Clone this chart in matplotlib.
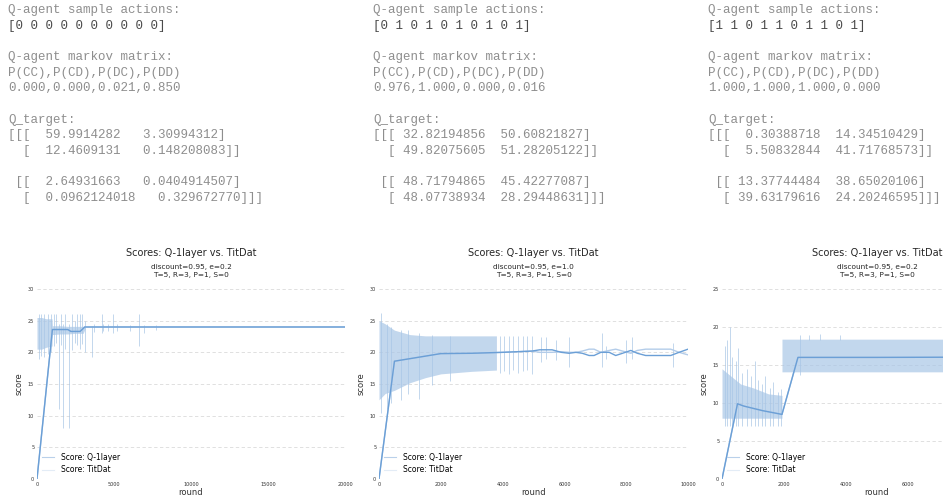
import matplotlib
matplotlib.use("Agg")
import matplotlib.pyplot as plt

W, H = 943, 498

# ---- text blocks above the charts ----
text_blocks = [
    ["Q-agent sample actions:",
     "[0 0 0 0 0 0 0 0 0 0]",
     "",
     "Q-agent markov matrix:",
     "P(CC),P(CD),P(DC),P(DD)",
     "0.000,0.000,0.021,0.850",
     "",
     "Q_target:",
     "[[[  59.9914282   3.30994312]",
     "  [  12.4609131   0.148208083]]",
     "",
     " [[  2.64931663   0.0404914507]",
     "  [  0.0962124018   0.329672770]]]"],
    ["Q-agent sample actions:",
     "[0 1 0 1 0 1 0 1 0 1]",
     "",
     "Q-agent markov matrix:",
     "P(CC),P(CD),P(DC),P(DD)",
     "0.976,1.000,0.000,0.016",
     "",
     "Q_target:",
     "[[[ 32.82194856  50.60821827]",
     "  [ 49.82075605  51.28205122]]",
     "",
     " [[ 48.71794865  45.42277087]",
     "  [ 48.07738934  28.29448631]]]"],
    ["Q-agent sample actions:",
     "[1 1 0 1 1 0 1 1 0 1]",
     "",
     "Q-agent markov matrix:",
     "P(CC),P(CD),P(DC),P(DD)",
     "1.000,1.000,1.000,0.000",
     "",
     "Q_target:",
     "[[[  0.30388718  14.34510429]",
     "  [  5.50832844  41.71768573]]",
     "",
     " [[ 13.37744484  38.65020106]",
     "  [ 39.63179616  24.20246595]]]"],
]
text_left = [8, 373, 708]

# ---- chart data ----
subtitles = ["discount=0.95, e=0.2", "discount=0.95, e=1.0", "discount=0.95, e=0.2"]
xmax = [20000, 10000, 10000]
ymax = [30, 30, 25]
xticks = [[0, 5000, 10000, 15000, 20000],
          [0, 2000, 4000, 6000, 8000, 10000],
          [0, 2000, 4000, 6000]]

# smoothed score lines
q_x = [
    [0, 1000, 2000, 2200, 2800, 3100, 20000],
    [0, 500, 1000, 1500, 2000, 3000, 4000, 4950, 5200, 5600, 5900, 6150, 6370, 6580, 6800, 6960,
     7180, 7450, 7660, 7880, 8150, 8360, 8630, 9440, 9710, 10000],
    [0, 500, 700, 1300, 1935, 2450, 5000, 10000],
]
q_y = [
    [0, 23.6, 23.6, 23.3, 23.3, 24.0, 24.0],
    [0, 18.6, 19.0, 19.4, 19.8, 19.85, 20.0, 20.2, 20.4, 20.4, 20.0, 19.85, 20.0, 19.85, 19.5, 19.5,
     20.0, 20.0, 19.5, 19.85, 20.3, 19.85, 19.5, 19.5, 20.0, 20.5],
    [0, 9.9, 9.6, 9.0, 8.5, 16.0, 16.0, 16.05],
]
td_x = [
    [0, 1000, 2000, 2200, 2800, 3100, 20000],
    [0, 500, 1000, 1500, 2000, 3000, 4000, 4950, 5200, 5600, 5900, 6150, 6370, 6580, 6800, 6960,
     7180, 7450, 7660, 7880, 8150, 8360, 8630, 9440, 9710, 10000],
    [0, 500, 700, 1300, 1935, 2450, 5000, 10000],
]
td_y = [
    [0, 23.6, 23.6, 23.3, 23.3, 24.0, 24.0],
    [0, 18.6, 19.0, 19.4, 19.8, 19.85, 20.0, 20.2, 20.0, 20.0, 20.1, 20.0, 20.0, 20.2, 20.5, 20.5,
     20.0, 20.3, 20.5, 20.2, 19.85, 20.3, 20.5, 20.5, 20.0, 19.6],
    [0, 9.9, 9.6, 9.0, 8.5, 16.0, 16.0, 16.05],
]

# dense score bands (envelope of the per-round scores)
band_x = [
    [0, 300, 600, 975, 1000, 1500, 2000, 2500, 3000, 3140],
    [0, 200, 500, 1000, 1500, 2000, 3000, 3800],
    [0, 300, 600, 1000, 1500, 1935, 1935, 10000],
]
band_lo = [
    [20.5, 20.5, 20.8, 21.0, 22.8, 22.9, 22.9, 23.0, 23.0, 23.8],
    [12.5, 13.5, 14.0, 15.2, 16.0, 16.6, 17.0, 17.2],
    [8.0, 8.0, 8.0, 8.0, 8.0, 8.0, 14.1, 14.1],
]
band_hi = [
    [25.5, 25.5, 25.3, 25.3, 24.2, 24.2, 24.1, 24.1, 24.1, 24.1],
    [25.0, 24.5, 23.5, 22.8, 22.6, 22.6, 22.6, 22.6],
    [14.5, 13.5, 12.5, 12.0, 11.2, 11.0, 18.4, 18.4],
]

# individual score spikes: round, low, high
spike_x = [
    [100, 250, 450, 700, 900, 1100, 1250, 1400, 1550, 1700, 1800, 2100, 2300, 2450, 2600, 2800,
     2950, 3100, 3570, 3700, 4200, 4300, 4600, 4950, 5200, 6050, 6630, 6950, 7700],
    [80, 250, 400, 700, 950, 1300, 1700, 2300, 3900, 4050, 4200, 4350, 4500, 4650, 4800, 4950,
     5230, 5400, 5720, 6150, 7230, 7340, 7985, 8200, 9500],
    [100, 150, 250, 320, 450, 520, 650, 800, 950, 1050, 1150, 1300, 1400, 1550, 1650, 1800, 1900,
     2500, 2800, 3150, 3800],
]
spike_lo = [
    [19.0, 19.5, 19.3, 19.8, 20.0, 21.0, 21.5, 11.0, 21.2, 8.0, 20.5, 8.0, 20.3, 21.5, 21.2, 20.5,
     21.3, 20.0, 19.3, 23.2, 23.0, 23.4, 23.3, 23.0, 23.3, 23.4, 21.0, 23.0, 23.5],
    [10.5, 11.0, 12.0, 12.5, 13.5, 12.7, 14.8, 15.5, 16.8, 17.0, 16.6, 17.2, 16.8, 17.0, 17.2, 16.6,
     18.5, 19.0, 18.8, 17.7, 17.7, 19.0, 18.3, 19.0, 17.7],
    [7.0, 7.0, 7.0, 7.0, 7.0, 7.0, 7.0, 7.0, 7.0, 7.0, 7.0, 7.0, 7.0, 7.0, 7.0, 7.0, 7.0,
     13.7, 18.3, 18.3, 18.3],
]
spike_hi = [
    [26.0, 26.0, 26.0, 26.0, 26.0, 26.0, 26.0, 24.5, 26.0, 24.5, 26.0, 24.5, 26.0, 25.0, 26.0, 26.0,
     26.0, 25.0, 24.2, 24.5, 26.0, 24.5, 24.5, 26.0, 24.5, 24.3, 26.0, 24.3, 24.3],
    [26.2, 24.5, 24.0, 23.5, 23.5, 23.0, 22.8, 22.6, 22.6, 22.6, 22.6, 22.6, 22.6, 22.6, 22.6, 22.6,
     22.5, 22.5, 22.0, 22.5, 23.0, 21.0, 22.0, 22.5, 21.5],
    [17.5, 18.3, 20.0, 16.0, 15.5, 17.2, 14.0, 14.5, 13.5, 15.5, 13.0, 12.5, 13.6, 12.0, 12.8, 11.5,
     11.8, 18.9, 19.0, 19.1, 18.9],
]

axes_left = [37, 379, 722]
axes_width = [308, 309, 310]

q_color = "#6b9fd6"
td_color = "#b3cce9"
band_color = "#a9c6e6"

fig = plt.figure(figsize=(W / 100, H / 100), dpi=100)
fig.patch.set_facecolor("white")

for col, lines in enumerate(text_blocks):
    for i, line in enumerate(lines):
        if not line:
            continue
        color = "#4a4a4a" if i == 1 else "#8e8e8e"
        fig.text(text_left[col] / W, 1 - (10 + 15.65 * i) / H, line, family="Liberation Mono",
                 fontsize=9, color=color, va="center", ha="left")

for k in range(3):
    ax = fig.add_axes([axes_left[k] / W, 19 / H, axes_width[k] / W, 190 / H])
    ax.fill_between(band_x[k], band_lo[k], band_hi[k], color=band_color, alpha=0.7, lw=0, zorder=1)
    ax.vlines(spike_x[k], spike_lo[k], spike_hi[k], color=band_color, alpha=0.7, lw=0.7, zorder=1)
    ax.plot(td_x[k], td_y[k], color=td_color, lw=1.0, zorder=3)
    ax.plot(q_x[k], q_y[k], color=q_color, lw=1.0, zorder=4)
    # legend handles drawn faint as in the original
    handles = [plt.Line2D([], [], color="#b9d0ea", lw=0.8),
               plt.Line2D([], [], color="#e3ecf6", lw=0.8)]
    ax.legend(handles, ["Score: Q-1layer", "Score: TitDat"], loc="lower left", frameon=False,
              fontsize=5.5, handlelength=1.6, handletextpad=1.0, borderaxespad=0.2,
              labelspacing=0.5)
    ax.set_xlim(0, xmax[k])
    ax.set_ylim(0, ymax[k])
    ax.set_xticks(xticks[k])
    ax.set_yticks(range(0, ymax[k] + 1, 5))
    ax.tick_params(length=0, labelsize=3.5, labelcolor="#333333", pad=2)
    for s in ax.spines.values():
        s.set_visible(False)
    ax.grid(axis="y", color="#dadada", lw=0.6, ls=(0, (4, 3)))
    ax.set_axisbelow(True)
    ax.set_xlabel("round", fontsize=6, color="#333333", labelpad=1)
    ax.set_ylabel("score", fontsize=6, color="#333333")
    ax.yaxis.set_label_coords(-13 / axes_width[k], 0.5)
    ax.text(0.5, 1 + 36 / 190, "Scores: Q-1layer vs. TitDat", transform=ax.transAxes,
            ha="center", va="center", fontsize=7, color="#262626")
    ax.text(0.5, 1 + 22 / 190, subtitles[k], transform=ax.transAxes,
            ha="center", va="center", fontsize=5.3, color="#262626")
    ax.text(0.5, 1 + 14 / 190, "T=5, R=3, P=1, S=0", transform=ax.transAxes,
            ha="center", va="center", fontsize=5.3, color="#262626")

fig.savefig("out.png", dpi=100, facecolor="white")
